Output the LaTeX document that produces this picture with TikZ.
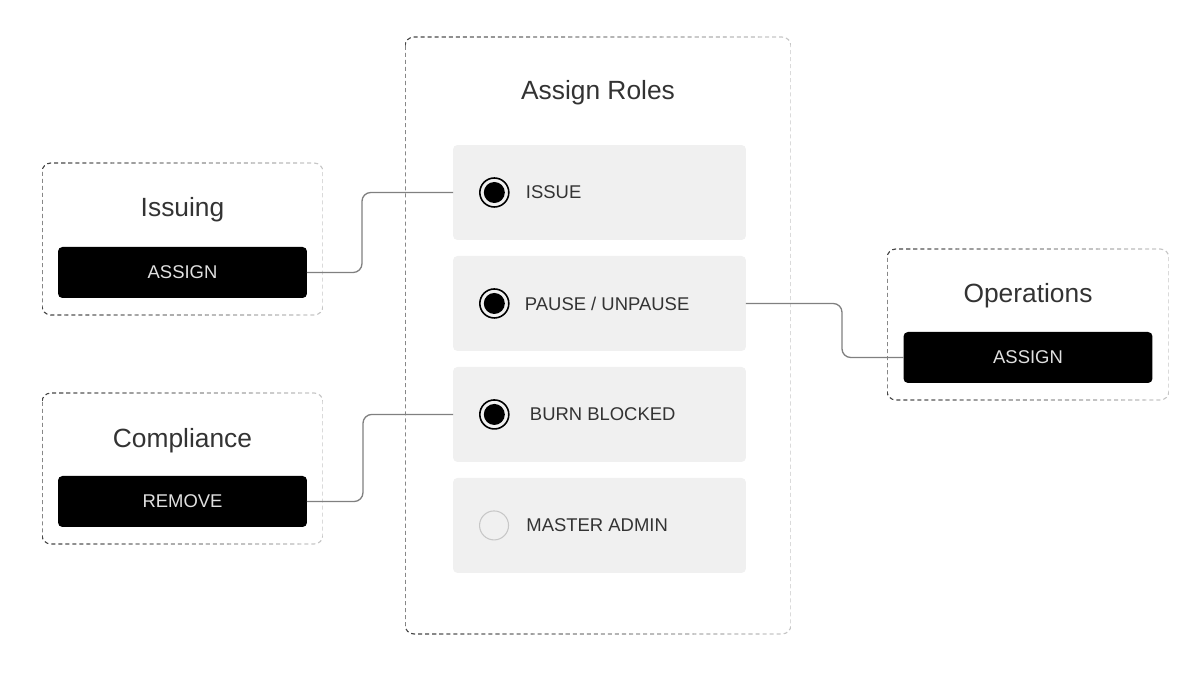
\documentclass[tikz,border=0pt]{standalone}
\usepackage{fontspec}
\setmainfont{Liberation Sans}
\usetikzlibrary{positioning}
\usetikzlibrary{calc}

\tikzset{
  frame/.style={rectangle, inner sep=0pt, outer sep=0pt},
  role/.style={rectangle, fill=black!6, rounded corners=2.5pt, minimum width=5.86cm, minimum height=1.9cm, inner sep=0pt, outer sep=0pt},
  button/.style={rectangle, fill=black, text=black!12, rounded corners=2.5pt, minimum width=4.98cm, minimum height=1.02cm, inner sep=0pt, outer sep=0pt, font=\fontsize{10.5}{12}\selectfont},
  heading/.style={text=black!80, anchor=base, inner sep=0pt, font=\fontsize{15}{18}\selectfont},
  rolelabel/.style={text=black!80, anchor=west, inner sep=0pt, font=\fontsize{10.5}{12}\selectfont},
  radio/.style={circle, draw=black, line width=0.9pt, minimum size=0.58cm, inner sep=0pt,
    path picture={\fill[black] (path picture bounding box.center) circle (0.21cm);}},
  radiooff/.style={circle, draw=black!22, line width=0.6pt, minimum size=0.58cm, inner sep=0pt},
  link/.style={draw=black!50, line width=0.75pt, rounded corners=5pt},
}

% dashed border, dark on the left and light on the right
\newcommand{\fadeframe}[1]{%
  \foreach \i in {0,...,11} {
    \begin{scope}
      \clip let \p1=(#1.north west), \p2=(#1.south east) in
        ({\x1+\i*(\x2-\x1)/12}, {\y1+5pt}) rectangle ({\x1+(\i+1)*(\x2-\x1)/12}, {\y2-5pt});
      \pgfmathsetmacro{\tone}{72-4.5*\i}
      \draw[draw=black!\tone, line width=0.65pt, dash pattern=on 2.3pt off 1.7pt, rounded corners=5pt]
        (#1.north west) rectangle (#1.south east);
    \end{scope}
  }}

\begin{document}
\begin{tikzpicture}[x=0.02cm, y=-0.02cm]
    \useasboundingbox (0,0) rectangle (1200,675);

    % frames
    \node[frame, minimum width=7.72cm, minimum height=11.94cm] (roles) at (598,335.5) {};
    \node[frame, minimum width=5.62cm, minimum height=3.04cm] (issuing) at (182.5,239) {};
    \node[frame, minimum width=5.62cm, minimum height=3.02cm] (compliance) at (182.5,468.5) {};
    \node[frame, minimum width=5.64cm, minimum height=3.02cm] (operations) at (1028,324.5) {};
    \fadeframe{roles}
    \fadeframe{issuing}
    \fadeframe{compliance}
    \fadeframe{operations}

    \node[heading] (rolestitle) at (598,100) {Assign Roles};
    \node[heading] (issuingtitle) at (182.5,217) {Issuing};
    \node[heading] (compliancetitle) at (182.5,447) {Compliance};
    \node[heading] (operationstitle) at (1028,303) {Operations};

    \node[button, above=0.34cm of issuing.south] (issuingbtn) {ASSIGN};
    \node[button, above=0.34cm of compliance.south] (compliancebtn) {REMOVE};
    \node[button, above=0.34cm of operations.south] (operationsbtn) {ASSIGN};

    % roles
    \node[role] (issue) at (599.5,192.5) {};
    \node[role, below=0.32cm of issue] (pause) {};
    \node[role, below=0.32cm of pause] (burn) {};
    \node[role, below=0.32cm of burn] (master) {};

    \node[radio, right=0.52cm of issue.west] (r1) {};
    \node[radio, right=0.52cm of pause.west] (r2) {};
    \node[radio, right=0.52cm of burn.west] (r3) {};
    \node[radiooff, right=0.52cm of master.west] (r4) {};

    \node[rolelabel, right=0.32cm of r1] (l1) {ISSUE};
    \node[rolelabel, right=0.3cm of r2] (l2) {PAUSE / UNPAUSE};
    \node[rolelabel, right=0.4cm of r3] (l3) {BURN BLOCKED};
    \node[rolelabel, right=0.34cm of r4] (l4) {MASTER ADMIN};

    % links
    \draw[link] (issuingbtn.east) -- ++(55,0) |- (issue.west);
    \draw[link] (compliancebtn.east) -- ++(56,0) |- (burn.west);
    \draw[link] (pause.east) -- ++(96,0) |- (operationsbtn.west);
\end{tikzpicture}
\end{document}
